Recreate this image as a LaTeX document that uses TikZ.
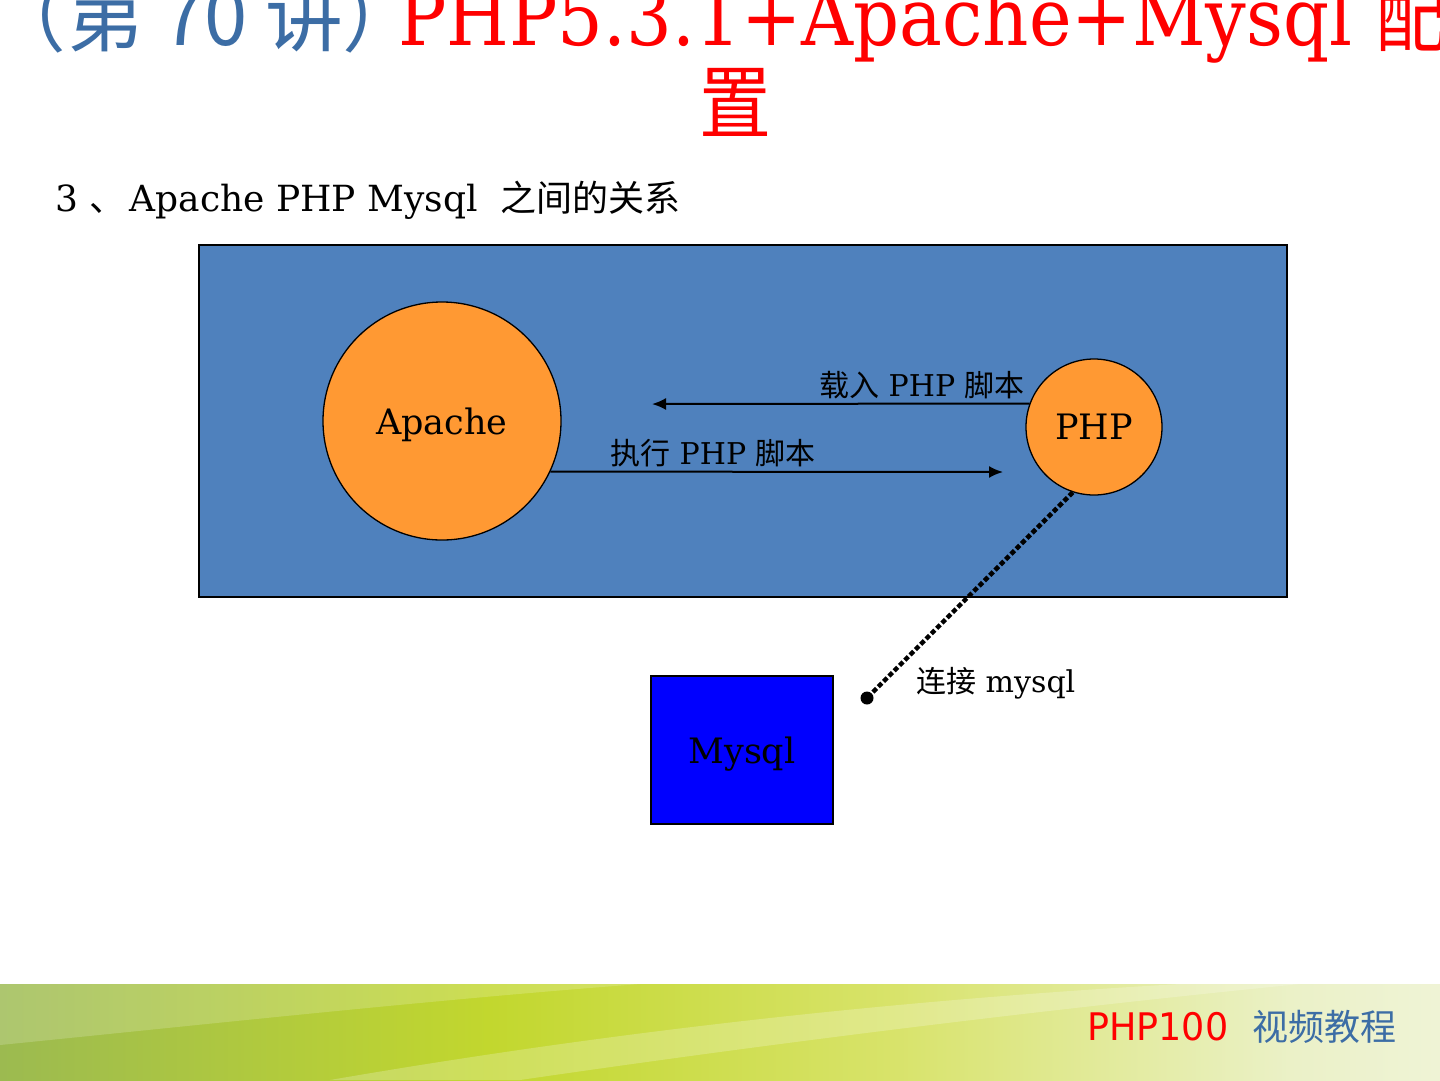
\documentclass[tikz,border=0pt]{standalone}
\usepackage{fontspec}
\setmainfont{DejaVu Serif}
\newfontfamily\cjk{Noto Sans CJK SC}
\newfontfamily\brandfont{DejaVu Sans}
\usetikzlibrary{positioning}
\usetikzlibrary{calc}
\usetikzlibrary{arrows.meta}
\definecolor{serverblue}{HTML}{4F81BD}
\definecolor{ballorange}{HTML}{FF9933}
\definecolor{dbblue}{HTML}{0000FF}
\definecolor{titleblue}{HTML}{3C6DA5}
\definecolor{titlered}{HTML}{FF0000}
\definecolor{bandA}{HTML}{779A52}
\definecolor{bandB}{HTML}{95B556}
\definecolor{bandC}{HTML}{C2D72E}
\definecolor{bandD}{HTML}{D8E36A}
\definecolor{bandE}{HTML}{EBF1C8}
\definecolor{bandF}{HTML}{F8F9F3}
\pgfdeclarehorizontalshading{footerband}{100bp}{color(0bp)=(bandA); color(22bp)=(bandB);
  color(42bp)=(bandC); color(56bp)=(bandD); color(70bp)=(bandE); color(86bp)=(bandF); color(100bp)=(white)}
\newcommand{\zh}[1]{{\cjk #1}}
\tikzset{
  box/.style      = { rectangle, inner sep=0pt },
  border/.style   = { draw=black, line width=1.3pt },
  ball/.style     = { circle, inner sep=0pt, border, fill=ballorange },
  server/.style   = { box, border, fill=serverblue },
  database/.style = { box, border, fill=dbblue },
  flow/.style     = { ->, line width=2pt },
  link/.style     = { line width=4.5pt, dash pattern=on 5pt off 2.5pt },
  flowtext/.style = { inner sep=0pt, font=\fontsize{30}{36}\selectfont },
  bigtext/.style  = { text depth=0pt, font=\fontsize{35}{40}\selectfont },
}

\begin{document}
\begin{tikzpicture}[x=1pt,y=-1pt,>={Latex[length=14pt,width=12pt]}]
  \useasboundingbox (0,0) rectangle (1440,1080);
  \clip (0,0) rectangle (1440,1080);
  \fill[white] (0,0) rectangle (1440,1080);

  % heading
  \node (title)     [anchor=base,inner sep=0pt,font=\fontsize{80}{87}\selectfont] at (718,45)
    {\scalebox{0.9}[1]{\textcolor{titleblue}{\scalebox{1.08}[1]{\zh{（第 70 讲）}}}\hspace{-25pt}\textcolor{titlered}{PHP5.3.1+Apache+Mysql \zh{配}}}};
  \node (titletail) [anchor=base,inner sep=0pt,font=\fontsize{80}{87}\selectfont,text=titlered] at (735,132)
    {\scalebox{0.9}[1]{\zh{置}}};
  \node (subtitle)  [anchor=base west,inner sep=0pt,font=\fontsize{36}{40}\selectfont] at (55,211)
    {3 \zh{、}\hspace{4pt}Apache PHP Mysql \ \zh{之间的关系}};

  % diagram
  \node (server) [server,minimum width=1088pt,minimum height=352pt] at (743,421) {};
  \node (apache) [ball,bigtext,minimum size=238pt] at (442,421) {Apache};
  \node (php)    [ball,bigtext,minimum size=136pt] at (1094,427) {PHP};
  \node (mysql)  [database,bigtext,minimum width=182pt,minimum height=148pt] at (742,750) {Mysql};

  \coordinate (loadend) at (652,404);
  \coordinate (runend)  at (1003,472);
  \coordinate (dbend)   at (867,698);

  \draw [flow] (php.160)    -- (loadend);
  \draw [flow] (apache.335) -- (runend);
  \draw [link] (php.252)    -- (dbend);
  \fill (dbend) circle (6.5pt);

  \node (loadtext) [flowtext,anchor=base east] at (1025,396) {\zh{载入} PHP \zh{脚本}};
  \node (runtext)  [flowtext,anchor=base west] at (610,464)  {\zh{执行} PHP \zh{脚本}};
  \node (dbtext)   [flowtext,anchor=base west] at (916,692)  {\zh{连接} mysql};

  % footer
  \shade[shading=footerband] (0,984) rectangle (1440,1080);
  \fill[white,opacity=0.18] (0,984) -- (640,984) .. controls (430,1000) and (200,1025) .. (0,1045) -- cycle;
  \fill[white,opacity=0.22] (330,1080) .. controls (620,1030) and (900,1000) .. (1180,984)
    -- (1300,984) .. controls (1020,1012) and (760,1045) .. (520,1080) -- cycle;
  \node (brand) [anchor=base west,inner sep=0pt] at (1087,1040)
    {\brandfont\fontsize{38}{40}\selectfont\textcolor{titlered}{\scalebox{0.96}[1]{PHP100}}\hspace{24pt}\textcolor{titleblue}{\fontsize{36}{40}\selectfont\zh{视频教程}}};
\end{tikzpicture}
\end{document}
